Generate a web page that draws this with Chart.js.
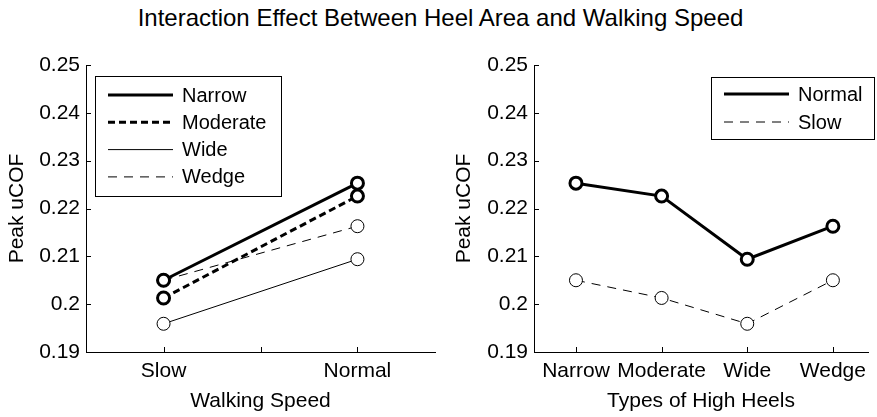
<!DOCTYPE html>
<html>
<head>
<meta charset="utf-8">
<script src="https://cdn.jsdelivr.net/npm/chart.js@4"></script>
<style>
  body { margin: 0; background: #fff; }
  #wrap { position: relative; width: 877px; height: 417px; }
  #wrap canvas { position: absolute; left: 0; top: 0; }
  #title { position: absolute; left: 2px; width: 877px; top: 6px; text-align: center;
           font: 24px/24px "Liberation Sans", Arial, sans-serif; color: #000; }
</style>
</head>
<body>
<div id="wrap">
  <div id="title">Interaction Effect Between Heel Area and Walking Speed</div>
  <canvas id="left" width="877" height="417"></canvas>
  <canvas id="right" width="877" height="417"></canvas>
</div>
<script>
const speeds = ['Slow', 'Normal'];
const heels = ['Narrow', 'Moderate', 'Wide', 'Wedge'];
const yTicks = [0.19, 0.2, 0.21, 0.22, 0.23, 0.24, 0.25];

// peak uCOF per heel type, [slow, normal]
const narrow = [0.2050, 0.2253];
const moderate = [0.2013, 0.2226];
const wide = [0.1959, 0.2094];
const wedge = [0.2050, 0.2163];

// same values, by walking speed over heel types
const normalByHeel = [narrow[1], moderate[1], wide[1], wedge[1]];
const slowByHeel = [narrow[0], moderate[0], wide[0], wedge[0]];

const FONT = '"Liberation Sans", Arial, sans-serif';
Chart.defaults.font.family = FONT;
Chart.defaults.font.size = 21;
Chart.defaults.color = '#000';

function pts(vals) {
  return vals.map((v, i) => ({ x: i + 1, y: v }));
}

function series(label, vals, thick, dash) {
  return {
    label: label,
    data: pts(vals),
    borderColor: '#000',
    borderWidth: thick ? 3 : 1,
    borderDash: dash,
    pointRadius: thick ? 6 : 6.5,
    pointBorderWidth: thick ? 3 : 1,
    pointBackgroundColor: '#fff',
    pointBorderColor: '#000',
    tension: 0
  };
}

// inward tick marks + boxed legend inside the axes
const matlabAxes = {
  id: 'matlabAxes',
  afterDraw(chart, args, opts) {
    const ctx = chart.ctx;
    const a = chart.chartArea;
    ctx.save();
    ctx.strokeStyle = '#000';
    ctx.lineWidth = 1;
    chart.scales.x.ticks.forEach(t => {
      const px = Math.round(chart.scales.x.getPixelForValue(t.value)) + 0.5;
      ctx.beginPath(); ctx.moveTo(px, a.bottom); ctx.lineTo(px, a.bottom - 5); ctx.stroke();
    });
    chart.scales.y.ticks.forEach(t => {
      const py = Math.round(chart.scales.y.getPixelForValue(t.value)) + 0.5;
      ctx.beginPath(); ctx.moveTo(a.left, py); ctx.lineTo(a.left + 5, py); ctx.stroke();
    });

    const L = opts.box;
    ctx.fillStyle = '#fff';
    ctx.fillRect(L.x, L.y, L.w, L.h);
    ctx.strokeRect(L.x + 0.5, L.y + 0.5, L.w, L.h);
    ctx.font = '20px ' + FONT;
    ctx.textBaseline = 'middle';
    ctx.fillStyle = '#000';
    chart.data.datasets.forEach((ds, i) => {
      const y = L.rowY + i * L.rowH;
      ctx.save();
      ctx.lineWidth = ds.borderWidth;
      ctx.setLineDash(ds.borderDash || []);
      ctx.beginPath(); ctx.moveTo(L.lineX1, y); ctx.lineTo(L.lineX2, y); ctx.stroke();
      ctx.restore();
      ctx.fillText(ds.label, L.textX, y + 1);
    });
    ctx.restore();
  }
};

function makeChart(id, labels, datasets, xMin, xMax, stepSize, xTitle, pad, yTitlePad, box) {
  return new Chart(document.getElementById(id), {
    type: 'line',
    data: { datasets: datasets },
    options: {
      responsive: false,
      animation: false,
      layout: { padding: pad },
      plugins: {
        legend: { display: false },
        tooltip: { enabled: false },
        matlabAxes: { box: box }
      },
      scales: {
        x: {
          type: 'linear',
          min: xMin, max: xMax,
          grid: { display: false, drawTicks: false },
          border: { display: true, color: '#000', width: 1 },
          ticks: {
            stepSize: stepSize,
            includeBounds: false,
            autoSkip: false,
            maxRotation: 0,
            padding: 7,
            callback: v => Number.isInteger(v) ? labels[v - 1] : ''
          },
          title: { display: true, text: xTitle, padding: { top: 0, bottom: 3 } },
          afterFit: s => { s.height = 65; }
        },
        y: {
          min: 0.19, max: 0.25,
          grid: { display: false, drawTicks: false },
          border: { display: true, color: '#000', width: 1 },
          afterBuildTicks: s => { s.ticks = yTicks.map(v => ({ value: v })); },
          ticks: {
            padding: 6,
            callback: v => String(+v.toFixed(2))
          },
          title: { display: true, text: 'Peak uCOF', padding: { top: yTitlePad, bottom: 0 } },
          afterFit: s => { s.width = 86; }
        }
      }
    },
    plugins: [matlabAxes]
  });
}

makeChart('left', speeds, [
  series('Narrow', narrow, true, []),
  series('Moderate', moderate, true, [7, 4]),
  series('Wide', wide, false, []),
  series('Wedge', wedge, false, [9, 7])
], 0.6, 2.4, 0.5, 'Walking Speed',
  { left: 0, right: 442, top: 65, bottom: 0 }, 5,
  { x: 95, y: 76, w: 186, h: 120, lineX1: 108, lineX2: 173, textX: 182, rowY: 95, rowH: 27.3 });

makeChart('right', heels, [
  series('Normal', normalByHeel, true, []),
  series('Slow', slowByHeel, false, [9, 7])
], 0.51, 4.41, 1, 'Types of High Heels',
  { left: 448, right: 2, top: 65, bottom: 0 }, 4,
  { x: 711, y: 77, w: 163, h: 62, lineX1: 724, lineX2: 789, textX: 798, rowY: 94, rowH: 28 });
</script>
</body>
</html>
